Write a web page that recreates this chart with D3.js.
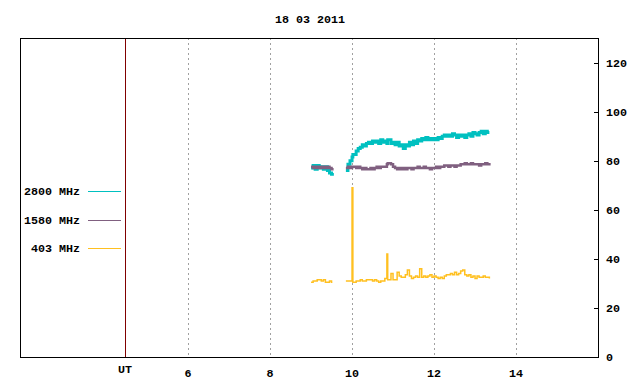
<!DOCTYPE html>
<html>
<head>
<meta charset="utf-8">
<script src="https://cdn.jsdelivr.net/npm/d3@7"></script>
<style>
  body { margin: 0; background: #fff; }
  text { font-family: "Liberation Mono", "DejaVu Sans Mono", monospace; font-weight: bold; font-size: 11.7px; fill: #000; }
</style>
</head>
<body>
<div id="chart"></div>
<script>
// data
var title = "18 03 2011";
var xTicks = [6, 8, 10, 12, 14];
var yTicks = [0, 20, 40, 60, 80, 100, 120];
var utHour = 4.46;

var series = ["2800 MHz", "1580 MHz", "403 MHz"];
var colors = ["#00c0c0", "#806080", "#ffc020"];

// hours UT, null marks the gap
var hours = [9.00, 9.05, 9.10, 9.15, 9.20, 9.25, 9.30, 9.35, 9.40, 9.45, 9.50, 9.52,
  9.70,
  9.85, 9.90, 9.95, 10.00, 10.02, 10.10, 10.15, 10.20, 10.25, 10.30, 10.35, 10.40, 10.45,
  10.50, 10.55, 10.60, 10.65, 10.70, 10.75, 10.80, 10.85, 10.87, 10.95, 11.00, 11.05,
  11.10, 11.15, 11.20, 11.25, 11.30, 11.35, 11.40, 11.45, 11.50, 11.55, 11.60, 11.65,
  11.70, 11.75, 11.80, 11.85, 11.90, 11.95, 12.00, 12.05, 12.10, 12.15, 12.20, 12.25,
  12.30, 12.35, 12.40, 12.45, 12.50, 12.55, 12.60, 12.65, 12.70, 12.75, 12.80, 12.85,
  12.90, 12.95, 13.00, 13.05, 13.10, 13.15, 13.20, 13.25, 13.30, 13.35];

var f2800 = [77.0, 78.0, 76.5, 78.0, 77.0, 77.5, 76.5, 77.5, 76.0, 75.0, 74.5, 75.0,
  null,
  76.0, 78.5, 80.0, 81.5, 82.5, 84.0, 85.0, 85.5, 86.5, 86.0, 87.0, 87.5, 87.0,
  88.0, 87.5, 88.0, 87.0, 88.5, 87.5, 88.0, 87.0, 88.5, 87.0, 87.5, 86.5,
  87.5, 86.0, 86.5, 85.0, 86.5, 86.0, 87.5, 86.5, 88.0, 87.0, 88.5, 88.0,
  89.0, 88.5, 89.5, 88.5, 89.0, 88.5, 89.0, 88.5, 89.5, 89.0, 90.0, 90.5,
  90.0, 90.5, 90.0, 91.0, 90.5, 89.5, 90.5, 90.0, 90.5, 89.5, 90.5, 91.0,
  90.0, 91.5, 91.0, 90.5, 91.5, 92.0, 91.0, 92.0, 91.5, 91.5];

var f1580 = [77.5, 77.0, 77.5, 77.0, 77.5, 77.0, 77.5, 77.0, 77.5, 77.0, 76.5, 77.0,
  null,
  77.0, 77.5, 77.0, 77.5, 77.5, 77.0, 77.5, 77.0, 76.5, 77.0, 76.5, 76.5, 77.0,
  76.5, 77.0, 77.5, 77.0, 77.5, 77.5, 77.5, 78.5, 79.0, 78.5, 77.5, 77.0,
  76.5, 77.0, 76.5, 77.0, 76.5, 77.0, 77.0, 76.5, 77.0, 77.0, 77.5, 77.0,
  77.0, 77.5, 77.0, 77.0, 76.5, 77.0, 77.0, 77.5, 77.0, 77.5, 77.5, 78.0,
  78.0, 77.5, 78.0, 78.0, 77.5, 78.0, 78.0, 78.5, 78.5, 79.0, 78.5, 78.5,
  79.0, 78.5, 78.5, 78.5, 78.0, 78.5, 78.5, 79.0, 78.5, 78.0];

var f403 = [30.5, 31.0, 31.0, 31.5, 31.5, 31.0, 31.5, 30.5, 30.5, 31.0, 30.5, 30.5,
  null,
  31.0, 31.0, 31.0, 69.0, 30.5, 31.0, 31.0, 31.5, 31.0, 31.0, 31.5, 31.5, 31.5,
  31.0, 31.5, 31.0, 30.5, 31.0, 31.0, 32.0, 42.0, 31.5, 34.0, 31.5, 31.5,
  34.5, 33.0, 32.5, 32.5, 33.5, 35.5, 33.0, 32.0, 32.5, 33.0, 32.5, 36.0,
  32.5, 33.0, 32.5, 33.0, 33.5, 32.5, 33.0, 32.5, 32.0, 32.5, 32.0, 33.0,
  33.5, 33.5, 34.0, 33.5, 34.5, 33.5, 34.0, 35.0, 35.5, 33.5, 33.0, 33.5,
  32.5, 33.0, 32.0, 33.0, 32.5, 32.5, 33.0, 32.5, 32.5, 32.0];

var values = [f2800, f1580, f403];
var widths = [3, 2.5, 1.5];

var width = 640, height = 384;
var plotLeft = 20, plotRight = 598, plotTop = 38, plotBottom = 357;

var svg = d3.select("#chart").append("svg")
    .attr("width", width)
    .attr("height", height);

var x = d3.scaleLinear().domain([1.9, 16]).range([plotLeft, plotRight]);
var y = d3.scaleLinear().domain([0, 130]).range([plotBottom, plotTop]);

// title
svg.append("text")
    .attr("x", 310).attr("y", 23)
    .attr("text-anchor", "middle")
    .text(title);

// dashed grid at hour ticks
svg.append("g").selectAll("line")
    .data(xTicks)
    .enter().append("line")
    .attr("x1", d => Math.round(x(d)) + 0.5)
    .attr("x2", d => Math.round(x(d)) + 0.5)
    .attr("y1", plotTop).attr("y2", plotBottom)
    .attr("stroke", "#a0a0a0")
    .attr("stroke-dasharray", "2,3");

// x tick labels
svg.append("g").selectAll("text")
    .data(xTicks)
    .enter().append("text")
    .attr("x", d => x(d))
    .attr("y", 377)
    .attr("text-anchor", "middle")
    .text(d => d);

svg.append("text")
    .attr("x", x(utHour)).attr("y", 373)
    .attr("text-anchor", "middle")
    .text("UT");

// right axis ticks
svg.append("g").selectAll("line")
    .data(yTicks)
    .enter().append("line")
    .attr("x1", plotRight - 4).attr("x2", plotRight)
    .attr("y1", d => Math.round(y(d)) + 0.5)
    .attr("y2", d => Math.round(y(d)) + 0.5)
    .attr("stroke", "#000");

svg.append("g").selectAll("text")
    .data(yTicks)
    .enter().append("text")
    .attr("x", 606)
    .attr("y", d => y(d) + 4)
    .text(d => d);

// UT line
svg.append("line")
    .attr("x1", Math.round(x(utHour)) + 0.5)
    .attr("x2", Math.round(x(utHour)) + 0.5)
    .attr("y1", plotTop).attr("y2", plotBottom)
    .attr("stroke", "#800000");

// data lines
var line = d3.line()
    .defined(d => d[1] != null)
    .curve(d3.curveStepAfter)
    .x(d => x(d[0]))
    .y(d => y(d[1]));

values.forEach(function(v, i) {
    svg.append("path")
        .datum(hours.map((h, j) => [h, v[j]]))
        .attr("fill", "none")
        .attr("stroke", colors[i])
        .attr("stroke-width", widths[i])
        .attr("d", line);
});

// legend
series.forEach(function(s, i) {
    var ly = 191 + i * 28.5;
    svg.append("text")
        .attr("x", 80).attr("y", ly + 4)
        .attr("text-anchor", "end")
        .text(s);
    svg.append("line")
        .attr("x1", 88).attr("x2", 121)
        .attr("y1", Math.round(ly) + 0.5).attr("y2", Math.round(ly) + 0.5)
        .attr("stroke", colors[i]);
});

// frame
svg.append("rect")
    .attr("x", plotLeft + 0.5).attr("y", plotTop + 0.5)
    .attr("width", plotRight - plotLeft).attr("height", plotBottom - plotTop)
    .attr("fill", "none")
    .attr("stroke", "#000");
</script>
</body>
</html>
